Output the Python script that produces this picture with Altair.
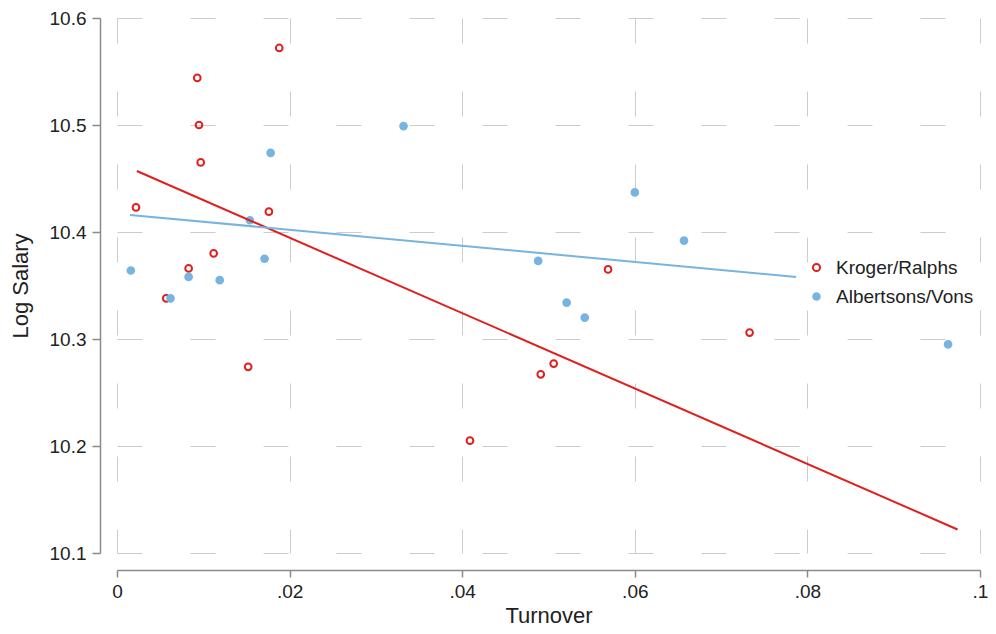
import altair as alt
import pandas as pd

# Kroger/Ralphs (red, hollow)
kr_x = [0.0022, 0.0057, 0.0083, 0.0093, 0.0095, 0.0097, 0.0112, 0.0152, 0.0176, 0.0188,
        0.0409, 0.0491, 0.0506, 0.0569, 0.0733]
kr_y = [10.423, 10.338, 10.366, 10.544, 10.500, 10.465, 10.380, 10.274, 10.419, 10.572,
        10.205, 10.267, 10.277, 10.365, 10.306]

# Albertsons/Vons (blue, filled)
av_x = [0.0016, 0.0062, 0.0083, 0.0119, 0.0154, 0.0171, 0.0178, 0.0332, 0.0488, 0.0521,
        0.0542, 0.0600, 0.0657, 0.0963]
av_y = [10.364, 10.338, 10.358, 10.355, 10.411, 10.375, 10.474, 10.499, 10.373, 10.334,
        10.320, 10.437, 10.392, 10.295]

# fitted lines (endpoints)
kr_fit_x = [0.0023, 0.0974]
kr_fit_y = [10.457, 10.122]
av_fit_x = [0.0015, 0.0787]
av_fit_y = [10.416, 10.358]

groups = ["Kroger/Ralphs", "Albertsons/Vons"]
red = "#e0201f"
blue = "#78b4e0"

pts = pd.DataFrame({
    "Turnover": kr_x + av_x,
    "LogSalary": kr_y + av_y,
    "Group": [groups[0]] * len(kr_x) + [groups[1]] * len(av_x),
})
fits = pd.DataFrame({
    "Turnover": kr_fit_x + av_fit_x,
    "LogSalary": kr_fit_y + av_fit_y,
    "Group": [groups[0]] * 2 + [groups[1]] * 2,
})

font = "Liberation Sans"

xscale = alt.Scale(domain=[0, 0.1], nice=False, zero=False)
yscale = alt.Scale(domain=[10.1, 10.6], nice=False, zero=False)

xaxis = alt.Axis(
    title="Turnover", values=[0, 0.02, 0.04, 0.06, 0.08, 0.1],
    labelExpr="datum.value == 0 ? '0' : replace(format(datum.value, '.2~f'), /^0/, '')",
    offset=17, tickSize=7, labelPadding=5, titlePadding=4, labelFlush=False,
    grid=True, gridDash=[25, 48], gridColor="#cccccc", gridWidth=1,
)
yaxis = alt.Axis(
    title="Log Salary", values=[10.1, 10.2, 10.3, 10.4, 10.5, 10.6], format=".1f",
    offset=17, tickSize=8, labelPadding=6, titlePadding=17, labelFlush=False,
    grid=True, gridDash=[25, 48], gridColor="#cccccc", gridWidth=1,
)

legend = alt.Legend(
    title=None, orient="none", legendX=690, legendY=240,
    labelFontSize=19, labelFont=font, labelColor="#222222",
    symbolSize=50, symbolStrokeWidth=2, rowPadding=9, labelOffset=10,
)

points = alt.Chart(pts).mark_point(filled=False, size=45, strokeWidth=2, opacity=1).encode(
    x=alt.X("Turnover:Q", scale=xscale, axis=xaxis),
    y=alt.Y("LogSalary:Q", scale=yscale, axis=yaxis),
    stroke=alt.Stroke("Group:N", scale=alt.Scale(domain=groups, range=[red, blue]), legend=legend),
    fill=alt.Fill("Group:N", scale=alt.Scale(domain=groups, range=["transparent", blue]), legend=legend),
    order=alt.Order("Group:N", sort="descending"),
)

lines = alt.Chart(fits).mark_line(strokeWidth=2).encode(
    x="Turnover:Q",
    y="LogSalary:Q",
    color=alt.Color("Group:N", scale=alt.Scale(domain=groups, range=[red, blue]), legend=None),
    strokeWidth=alt.StrokeWidth("Group:N", scale=alt.Scale(domain=groups, range=[2, 1.5]), legend=None),
)

chart = alt.layer(points, lines).properties(
    width=863, height=535,
    autosize=alt.AutoSizeParams(type="none"),
    padding={"left": 109, "top": 10, "right": 8, "bottom": 73},
    background="white",
).configure_view(stroke=None).configure_axis(
    labelFont=font, titleFont=font, labelFontSize=19, titleFontSize=22,
    labelColor="#222222", titleColor="#222222", titleFontWeight="normal",
    domainColor="#8a8a8a", tickColor="#8a8a8a", domainWidth=1.5, tickWidth=1.5,
)

chart.save("out.html", embed_options={"renderer": "svg", "actions": False})
